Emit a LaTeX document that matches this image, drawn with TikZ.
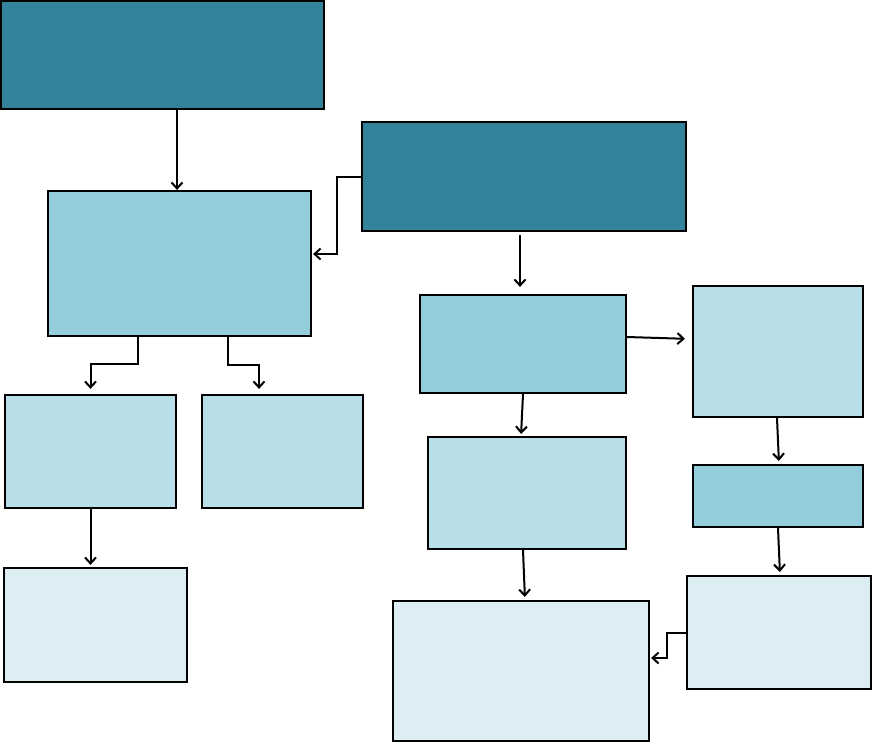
\documentclass[tikz,border=0pt]{standalone}
\usetikzlibrary{arrows.meta}
\definecolor{tealdark}{HTML}{33849B}
\definecolor{tealmid}{HTML}{94CEDC}
\definecolor{teallight}{HTML}{B8DFE8}
\definecolor{tealpale}{HTML}{DCEEF3}
\begin{document}
\begin{tikzpicture}[x=1pt, y=-1pt,
  box/.style={draw=black, line width=2.2pt, inner sep=0pt},
  darkbox/.style={box, fill=tealdark},
  midbox/.style={box, fill=tealmid},
  lightbox/.style={box, fill=teallight},
  palebox/.style={box, fill=tealpale},
  arr/.style={-{Straight Barb[length=6pt, width=11pt, line width=2pt]}, line width=2pt, shorten >=3pt}]
\useasboundingbox (0,0) rectangle (872,742);
% left column
\node[darkbox, minimum width=323pt, minimum height=108pt] (goal) at (162.5,55) {};
\node[midbox, minimum width=263pt, minimum height=145pt] (main) at (179.5,263.5) {};
\node[lightbox, minimum width=171pt, minimum height=113pt] (left) at (90.5,451.5) {};
\node[lightbox, minimum width=161pt, minimum height=113pt] (mid) at (282.5,451.5) {};
\node[palebox, minimum width=183pt, minimum height=114pt] (leftend) at (95.5,625) {};
% right column
\node[darkbox, line width=1.8pt, minimum width=324pt, minimum height=109pt] (source) at (524,176.5) {};
\node[midbox, minimum width=206pt, minimum height=98pt] (step1) at (523,344) {};
\node[lightbox, minimum width=170pt, minimum height=131pt] (side) at (778,351.5) {};
\node[lightbox, minimum width=198pt, minimum height=112pt] (step2) at (527,493) {};
\node[midbox, minimum width=170pt, minimum height=62pt] (sidestep) at (778,496) {};
\node[palebox, minimum width=256pt, minimum height=140pt] (result) at (521,671) {};
\node[palebox, minimum width=184pt, minimum height=113pt] (sideend) at (779,632.5) {};
% connectors
\draw[arr, shorten >=0pt] ([xshift=-2.5pt]main.north |- goal.south) -- ([xshift=-2.5pt]main.north);
\draw[arr, shorten >=1pt] (source.west) -- ++(-24,0) |- ([yshift=9.5pt]main.east);
\draw[arr, shorten >=5pt] ([xshift=-41.5pt]main.south) -- ++(0,27) -| (left.north);
\draw[arr, shorten >=5pt] ([xshift=48.5pt]main.south) -- ++(0,28) -| ([xshift=-23.5pt]mid.north);
\draw[arr, shorten >=2pt] (left.south) -- (leftend.north -| left.south);
\draw[arr, shorten >=7pt, shorten <=3pt] ([xshift=-4pt]source.south) -- ([xshift=-3pt]step1.north);
\draw[arr, shorten >=7pt] ([yshift=7pt]step1.east) -- ([yshift=12.5pt]side.west);
\draw[arr, shorten >=2pt] (step1.south) -- ([xshift=-6pt]step2.north);
\draw[arr] ([xshift=-1pt]side.south) -- ([xshift=1pt]sidestep.north);
\draw[arr] (sidestep.south) -- ([xshift=1pt]sideend.north);
\draw[arr] ([xshift=-4pt]step2.south) -- ([xshift=4pt]result.north);
\draw[arr, shorten >=1pt] (sideend.west) -- ++(-19,0) |- ([yshift=13pt]result.east);
\end{tikzpicture}
\end{document}
